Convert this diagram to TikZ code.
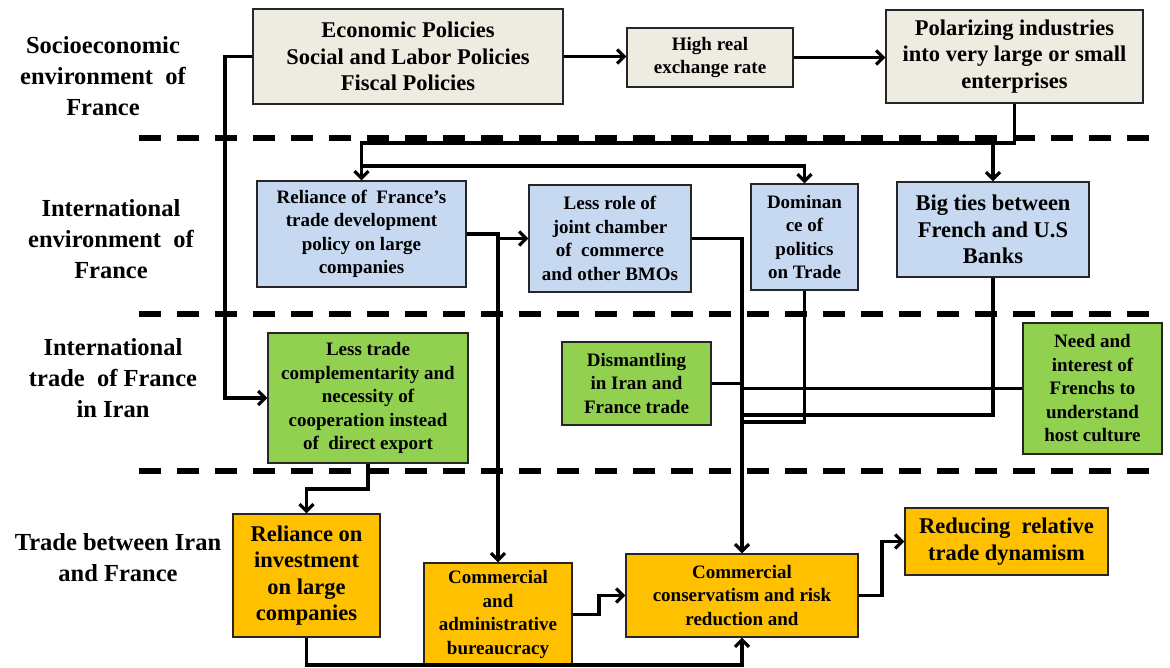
\documentclass[tikz,border=0pt]{standalone}
\usepackage{fontspec}
\setmainfont{Liberation Serif}
\usetikzlibrary{arrows.meta}
\definecolor{beige}{HTML}{EEECE1}
\definecolor{lblue}{HTML}{C6D9F1}
\definecolor{lgreen}{HTML}{92D050}
\definecolor{lorange}{HTML}{FFC000}
\begin{document}
\begin{tikzpicture}[x=1pt,y=-1pt,
  box/.style={draw=black!85, line width=1.3pt, inner sep=0pt, align=center,
    font=\bfseries\fontsize{19}{23.5}\selectfont},
  bigtxt/.style={font=\bfseries\fontsize{22.5}{26.5}\selectfont},
  lab/.style={align=center, inner sep=0pt, font=\bfseries\fontsize{24.5}{31}\selectfont},
  conn/.style={line width=3.2pt, black},
  arr/.style={conn, -{Straight Barb[length=7pt,width=14pt]}},
  sepline/.style={line width=6.5pt, dash pattern=on 22pt off 16pt}]
\useasboundingbox (0,0) rectangle (1170,668);
\fill[white] (0,0) rectangle (1170,668);

% separators
\draw[sepline] (139,138) -- (1158,138);
\draw[sepline] (139,314) -- (1158,314);
\draw[sepline] (139,471) -- (1158,471);

% left labels
\node[lab] (l1) at (103,76) {Socioeconomic\\environment~ of\\France};
\node[lab] (l2) at (111,239) {International\\environment~ of\\France};
\node[lab] (l3) at (113,378) {International\\trade~ of France\\in Iran};
\node[lab] (l4) at (118,558) {Trade between Iran\\and France};

% boxes
\node[box, bigtxt, fill=beige, minimum width=310pt, minimum height=95pt] (econ) at (408,56.5)
  {Economic Policies\\Social and Labor Policies\\Fiscal Policies};
\node[box, fill=beige, minimum width=166pt, minimum height=59pt] (high) at (710,57.5)
  {High real\\exchange rate};
\node[box, bigtxt, fill=beige, minimum width=257pt, minimum height=93pt] (polar) at (1014.5,56.5)
  {Polarizing industries\\into very large or small\\enterprises};

\node[box, fill=lblue, minimum width=209pt, minimum height=106pt] (rel) at (361.5,234)
  {Reliance of~ France’s\\trade development\\policy on large\\companies};
\node[box, fill=lblue, minimum width=162pt, minimum height=107pt] (lessrole) at (610,238.5)
  {Less role of\\joint chamber\\of~ commerce\\and other BMOs};
\node[box, fill=lblue, minimum width=107pt, minimum height=106pt] (dom) at (804.5,237)
  {Dominan\\ce of\\politics\\on Trade};
\node[box, bigtxt, fill=lblue, minimum width=192pt, minimum height=95pt] (bigties) at (993,229.5)
  {Big ties between\\French and U.S\\Banks};

\node[box, fill=lgreen, minimum width=200pt, minimum height=130pt] (lesstrade) at (368,398)
  {Less trade\\complementarity and\\necessity of\\cooperation instead\\of~ direct export};
\node[box, fill=lgreen, minimum width=149pt, minimum height=83pt] (dism) at (636.5,383.5)
  {Dismantling\\in Iran and\\France trade};
\node[box, fill=lgreen, minimum width=139pt, minimum height=131pt] (need) at (1092.5,388.5)
  {Need and\\interest of\\Frenchs to\\understand\\host culture};

\node[box, bigtxt, fill=lorange, minimum width=147pt, minimum height=123pt] (relinv) at (306.5,575.5)
  {Reliance on\\investment\\on large\\companies};
\node[box, fill=lorange, minimum width=148pt, minimum height=103pt] (admin) at (498,614.5)
  {Commercial\\and\\administrative\\bureaucracy};
\node[box, fill=lorange, minimum width=232pt, minimum height=83pt] (cons) at (742,595.5)
  {Commercial\\conservatism and risk\\reduction and};
\node[box, bigtxt, fill=lorange, minimum width=203pt, minimum height=67pt] (red) at (1006.5,541.5)
  {Reducing~ relative\\trade dynamism};

% helper coordinates
\coordinate (bus1) at (0,143);
\coordinate (bus2) at (0,166);
\coordinate (h9) at (742,422);
\coordinate (h10) at (742,415);
\coordinate (h13) at (0,489);
\coordinate (h14) at (0,665);
\coordinate (v15) at (599,0);
\coordinate (v16) at (882,0);
\coordinate (v1) at (225,0);

% connectors
\draw[arr] (econ.west) -- (econ.west -| v1) |- (lesstrade.west);
\draw[arr] (econ.east) -- (econ.east -| high.west);
\draw[arr] (high.east) -- (high.east -| polar.west);
\draw[arr] (polar.south) -- (polar.south |- bus1) -| (rel.north);
\draw[arr] (bigties.north |- bus1) -- (bigties.north);
\draw[arr] (rel.north |- bus2) -| (dom.north);
\draw[arr] (rel.east) -| (admin.north);
\draw[arr] (admin.north |- lessrole.west) -- (lessrole.west);
\draw[arr] (lessrole.east) -| (cons.north);
\draw[conn] (dom.south) |- (h9);
\draw[conn] (bigties.south) |- (h10);
\draw[conn] (dism.east) -- (dism.east -| cons.north);
\draw[conn] (need.west) -- (need.west -| cons.north);
\draw[arr] (lesstrade.south) -- (lesstrade.south |- h13) -| (relinv.north);
\draw[arr] (relinv.south) -- (relinv.south |- h14) -| (cons.south);
\draw[arr] (admin.east) -- (admin.east -| v15) |- (cons.west);
\draw[arr] (cons.east) -- (cons.east -| v16) |- (red.west);
\end{tikzpicture}
\end{document}
